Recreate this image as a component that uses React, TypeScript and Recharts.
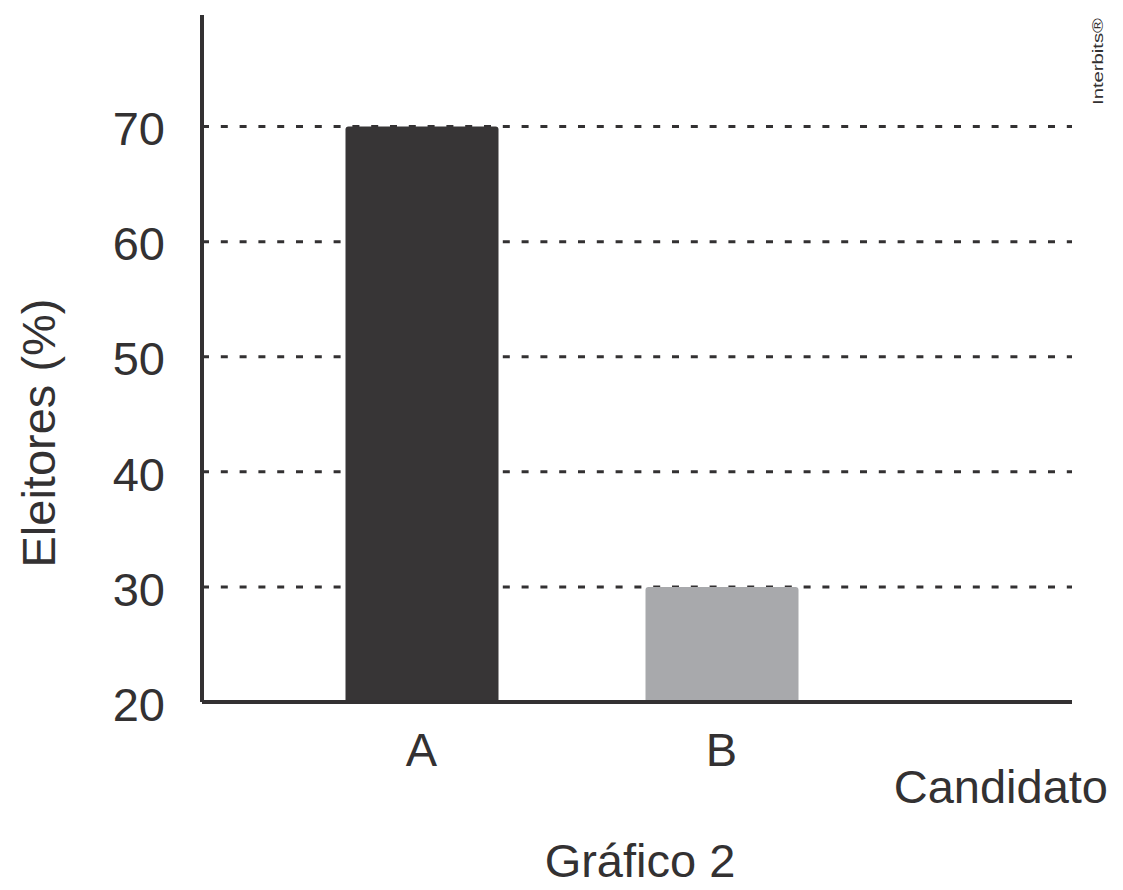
import { BarChart, Bar, XAxis, YAxis, CartesianGrid, Cell, Label } from 'recharts'

const candidates = ['A', 'B']
const voterShares = [70, 30]
const barColors = ['#373536', '#a8a9ac']
const yTicks = [20, 30, 40, 50, 60, 70]
const gridValues = [30, 40, 50, 60, 70]

const data = candidates.map((name, i) => ({ name, value: voterShares[i] }))

const FONT = '"Liberation Sans", Arial, sans-serif'
const INK = '#333132'

export default function App() {
  return (
    <div style={{ position: 'absolute', left: 0, top: 0, width: 1123, height: 890, background: '#fff' }}>
      <BarChart
        width={1123}
        height={890}
        data={data}
        margin={{ top: 15, right: 51, bottom: 128, left: 52 }}
        barCategoryGap={0}
      >
        <CartesianGrid
          horizontal
          vertical={false}
          horizontalValues={gridValues}
          stroke={INK}
          strokeWidth={3}
          strokeDasharray="7 11.8"
        />
        <XAxis
          dataKey="name"
          height={60}
          padding={{ left: 69.5, right: 200.5 }}
          axisLine={{ stroke: INK, strokeWidth: 4 }}
          tickLine={false}
          tickSize={0}
          tickMargin={31}
          tick={{ fill: INK, fontSize: 47, fontFamily: FONT }}
        >
          <Label
            content={() => (
              <g fontFamily={FONT} fill={INK} fontSize={47}>
                <text x={1108} y={803} textAnchor="end">
                  Candidato
                </text>
                <text x={640} y={877} textAnchor="middle">
                  Gráfico 2
                </text>
              </g>
            )}
          />
        </XAxis>
        <YAxis
          width={150}
          domain={[20, 79.7]}
          ticks={yTicks}
          allowDataOverflow
          axisLine={{ stroke: INK, strokeWidth: 4 }}
          tickLine={false}
          tickSize={0}
          tickMargin={37}
          tick={{ fill: INK, fontSize: 47, fontFamily: FONT, dy: 2 }}
        >
          <Label
            content={() => (
              <g fontFamily={FONT} fill={INK}>
                <text x={55} y={433} fontSize={47} textAnchor="middle" transform="rotate(-90 55 433)">
                  Eleitores (%)
                </text>
                <text
                  x={1103}
                  y={105}
                  fontSize={14}
                  textLength={87}
                  lengthAdjust="spacingAndGlyphs"
                  transform="rotate(-90 1103 105)"
                >
                  Interbits®
                </text>
              </g>
            )}
          />
        </YAxis>
        <Bar dataKey="value" barSize={153} radius={[3, 3, 0, 0]} isAnimationActive={false}>
          {data.map((d, i) => (
            <Cell key={d.name} fill={barColors[i]} />
          ))}
        </Bar>
      </BarChart>
    </div>
  )
}
